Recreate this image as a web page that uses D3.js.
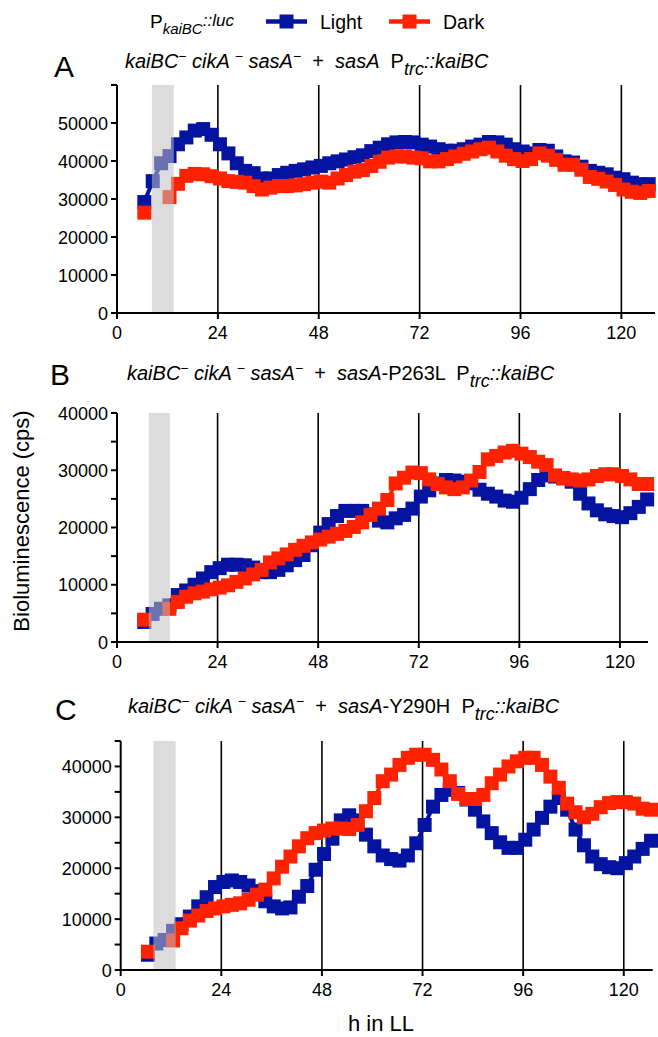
<!DOCTYPE html>
<html>
<head>
<meta charset="utf-8">
<script src="https://cdn.jsdelivr.net/npm/d3@7"></script>
<style>
  body { margin: 0; background: #fff; }
  svg text { font-family: "Liberation Sans", Arial, sans-serif; fill: #000; }
</style>
</head>
<body>
<svg id="chart" width="658" height="1037"></svg>
<script>
// sampling times in LL (h), one reading every 2 h
const hours = d3.range(6.5, 128, 2);

// A: sasA
const lightA = [
  29200, 34700, 39400, 41300, 44400, 46200, 48000, 48400, 46900, 44400,
  42000, 39400, 37400, 36800, 35400, 35400, 36300, 36900, 37400, 37800,
  38300, 38700, 39400, 39900, 40400, 41000, 41500, 42600, 43500, 44400,
  44900, 45000, 44900, 44300, 43800, 43100, 42700, 42700, 43100, 43800,
  44300, 45000, 44900, 44300, 43100, 42500, 42000, 42900, 42700, 41200,
  39900, 39600, 38500, 37400, 36900, 36500, 35600, 35200, 34300, 33900,
  33900
];
const darkA = [
  26400, null, null, 30500, 34000, 36100, 36600, 36500, 36000, 35400,
  34700, 34500, 34300, 33400, 32500, 33000, 33400, 33400, 33600, 33900,
  34300, 34600, 34300, 35400, 36300, 37200, 37600, 38700, 39800, 40900,
  41200, 41200, 40900, 40700, 39900, 39900, 40500, 41200, 41900, 42500,
  43100, 43500, 42500, 41400, 40500, 40000, 40500, 42000, 41400, 40300,
  39000, 39000, 37700, 35800, 35300, 34600, 33700, 32500, 31900, 31600,
  32100
];

// B: sasA-P263L
const lightB = [
  3500, 4900, 5800, 6400, 8200, 9000, 10000, 11100, 12200, 12900,
  13500, 13500, 13400, 13000, 12200, 12200, 12600, 13400, 14300, 15200,
  16900, 19100, 20600, 22000, 22900, 22900, 22900, 22300, 21200, 20900,
  21600, 22200, 23300, 25400, 26500, 27700, 28300, 28200, 28000, 27700,
  26600, 25900, 25400, 24700, 24500, 25200, 26700, 28300, 29100, 28900,
  28600, 28000, 25900, 24200, 23000, 22300, 22000, 21800, 22500, 23600,
  24900
];
const darkB = [
  3900, null, null, 5800, 7000, 7900, 8500, 8800, 9200, 9500,
  9900, 10500, 11100, 11800, 12600, 13900, 14600, 15300, 16100, 16800,
  17400, 17900, 18400, 18900, 19400, 20100, 20900, 22200, 23300, 24800,
  27700, 28700, 29600, 29500, 28400, 27600, 27000, 26700, 27000, 28200,
  29700, 31900, 32500, 33100, 33400, 32900, 32300, 31500, 30900, 29100,
  28600, 28400, 28200, 28400, 29000, 29300, 29300, 29000, 28400, 27600,
  27600
];

// C: sasA-Y290H
const lightC = [
  3000, 5200, 5900, 7700, 9000, 10500, 12500, 14300, 16300, 17300,
  17600, 17300, 16600, 15500, 13500, 12500, 12100, 12300, 14400, 16500,
  19700, 22800, 25800, 29400, 30400, 29400, 26600, 24300, 22500, 21800,
  21500, 22500, 24900, 28500, 32100, 34400, 35400, 34800, 33500, 31500,
  29200, 26900, 25100, 24000, 24000, 25600, 27600, 29900, 32100, 33800,
  31500, 27600, 24500, 22300, 20800, 20200, 20000, 21000, 22300, 23800,
  25400
];
const darkC = [
  3600, null, null, 5800, 8200, 9700, 10700, 11600, 12100, 12500,
  12800, 13100, 13800, 14800, 15800, 18000, 20300, 22300, 24300, 25900,
  26900, 27400, 27800, 27800, 27700, 28500, 31200, 33800, 37100, 38400,
  40300, 41700, 42300, 42300, 41300, 39400, 37100, 34600, 33600, 33600,
  34400, 36700, 38400, 40000, 41000, 41700, 41700, 40300, 38000, 35800,
  32700, 31000, 30000, 30700, 32000, 32800, 33000, 33000, 32700, 31700,
  31500
];

const xTicks = [0, 24, 48, 72, 96, 120];
const xGrid = [24, 48, 72, 96, 120];

const titleA = [["kaiBC", "i"], ["\u2212", "sup"], [" cikA ", "i"], ["\u2212", "sup"], [" sasA", "i"], ["\u2212", "sup"],
  ["  +  ", ""], ["sasA", "i"], ["  P", ""], ["trc", "sub"], ["::kaiBC", "i"]];
const titleB = [["kaiBC", "i"], ["\u2212", "sup"], [" cikA ", "i"], ["\u2212", "sup"], [" sasA", "i"], ["\u2212", "sup"],
  ["  +  ", ""], ["sasA", "i"], ["-P263L  P", ""], ["trc", "sub"], ["::kaiBC", "i"]];
const titleC = [["kaiBC", "i"], ["\u2212", "sup"], [" cikA ", "i"], ["\u2212", "sup"], [" sasA", "i"], ["\u2212", "sup"],
  ["  +  ", ""], ["sasA", "i"], ["-Y290H  P", ""], ["trc", "sub"], ["::kaiBC", "i"]];

const LIGHT = "#0414a0";
const DARK = "#ff2200";

const panels = [
  { letter: "A", light: lightA, dark: darkA, title: titleA,
    top: 85, bottom: 313, left: 117, right: 655, xMax: 128,
    yMax: 60000, yLabels: d3.range(0, 60000, 10000), yMinor: [60000],
    band: [8.3, 13.5], letterX: 54, letterY: 77, titleX: 125, titleY: 68 },
  { letter: "B", light: lightB, dark: darkB, title: titleB,
    top: 413, bottom: 642, left: 117, right: 648, xMax: 126.7,
    yMax: 40000, yLabels: d3.range(0, 40001, 10000), yMinor: [5000, 15000, 25000, 35000],
    band: [7.6, 12.6], letterX: 50, letterY: 385, titleX: 127, titleY: 380 },
  { letter: "C", light: lightC, dark: darkC, title: titleC,
    top: 741, bottom: 970, left: 120.7, right: 652.7, xMax: 126.9,
    yMax: 45000, yLabels: d3.range(0, 40001, 10000), yMinor: [5000, 15000, 25000, 35000, 45000],
    band: [7.8, 13.1], letterX: 55, letterY: 720, titleX: 128, titleY: 713 }
];

const svg = d3.select("#chart");

function drawTitle(g, x, y, parts) {
  const t = g.append("text").attr("x", x).attr("y", y)
    .attr("font-size", 20).style("white-space", "pre");
  let shift = 0;
  parts.forEach(([s, kind]) => {
    let target = 0, size = 20, italic = kind === "i";
    if (kind === "sup") { target = -7; size = 14; }
    if (kind === "sub") { target = 7; size = 18; italic = true; }
    t.append("tspan").attr("dy", target - shift)
      .attr("font-size", size)
      .attr("font-style", italic ? "italic" : "normal")
      .text(s);
    shift = target;
  });
}

function drawSeries(g, x, y, values, color, size) {
  const pts = hours.map((h, i) => ({ h, v: values[i] }));
  const line = d3.line().defined(d => d.v != null).x(d => x(d.h)).y(d => y(d.v));
  g.append("path").datum(pts)
    .attr("fill", "none").attr("stroke", color).attr("stroke-width", 4)
    .attr("d", line);
  g.selectAll(null).data(pts.filter(d => d.v != null)).enter()
    .append("rect")
    .attr("x", d => x(d.h) - size / 2).attr("y", d => y(d.v) - size / 2)
    .attr("width", size).attr("height", size)
    .attr("fill", color);
}

panels.forEach(p => {
  const g = svg.append("g");
  const x = d3.scaleLinear().domain([0, p.xMax]).range([p.left, p.right]);
  const y = d3.scaleLinear().domain([0, p.yMax]).range([p.bottom, p.top]);

  // vertical day lines
  g.selectAll(null).data(xGrid).enter().append("line")
    .attr("x1", d => x(d)).attr("x2", d => x(d))
    .attr("y1", p.top).attr("y2", p.bottom)
    .attr("stroke", "#000").attr("stroke-width", 1.6);

  drawSeries(g, x, y, p.light, LIGHT, 14);
  drawSeries(g, x, y, p.dark, DARK, 14);

  // light pulse band, drawn over the traces so points inside look faded
  g.append("rect")
    .attr("x", x(p.band[0])).attr("width", x(p.band[1]) - x(p.band[0]))
    .attr("y", p.top).attr("height", p.bottom - p.top - 1)
    .attr("fill", "#c0c0c0").attr("opacity", 0.55);

  // axes
  const ax = g.append("g").attr("stroke", "#000").attr("stroke-width", 2);
  ax.append("line").attr("x1", p.left).attr("x2", p.left).attr("y1", p.top).attr("y2", p.bottom + 1);
  ax.append("line").attr("x1", p.left - 1).attr("x2", p.right).attr("y1", p.bottom).attr("y2", p.bottom);
  ax.selectAll(null).data(p.yLabels.concat(p.yMinor)).enter().append("line")
    .attr("x1", p.left - 6).attr("x2", p.left)
    .attr("y1", d => y(d)).attr("y2", d => y(d));
  ax.selectAll(null).data(xTicks).enter().append("line")
    .attr("x1", d => x(d)).attr("x2", d => x(d))
    .attr("y1", p.bottom).attr("y2", p.bottom + 6);

  g.selectAll(null).data(p.yLabels).enter().append("text")
    .attr("x", p.left - 9).attr("y", d => y(d) + 6.5)
    .attr("text-anchor", "end").attr("font-size", 18)
    .text(d => d);
  g.selectAll(null).data(xTicks).enter().append("text")
    .attr("x", d => x(d)).attr("y", p.bottom + 26)
    .attr("text-anchor", "middle").attr("font-size", 18)
    .text(d => d);

  g.append("text").attr("x", p.letterX).attr("y", p.letterY)
    .attr("font-size", 30).text(p.letter);
  drawTitle(g, p.titleX, p.titleY, p.title);
});

// axis titles
svg.append("text")
  .attr("transform", "translate(29,521) rotate(-90)")
  .attr("text-anchor", "middle").attr("font-size", 22)
  .text("Bioluminescence (cps)");
svg.append("text").attr("x", 381).attr("y", 1031)
  .attr("text-anchor", "middle").attr("font-size", 22)
  .text("h in LL");

// legend
const leg = svg.append("g");
const lt = leg.append("text").attr("x", 150).attr("y", 28).attr("font-size", 19);
lt.append("tspan").text("P");
lt.append("tspan").attr("dy", 6).attr("font-size", 15).attr("font-style", "italic").text("kaiBC");
lt.append("tspan").attr("dy", -8).attr("font-size", 17).attr("font-style", "italic").text("::luc");

const legendItems = [
  { name: "Light", color: LIGHT, x: 266 },
  { name: "Dark", color: DARK, x: 389 }
];
legendItems.forEach(it => {
  leg.append("line").attr("x1", it.x).attr("x2", it.x + 41)
    .attr("y1", 21.5).attr("y2", 21.5)
    .attr("stroke", it.color).attr("stroke-width", 4.5);
  leg.append("rect").attr("x", it.x + 13.5).attr("y", 14.5)
    .attr("width", 14).attr("height", 14).attr("fill", it.color);
  leg.append("text").attr("x", it.x + 54).attr("y", 28.5)
    .attr("font-size", 19.5).text(it.name);
});
</script>
</body>
</html>
